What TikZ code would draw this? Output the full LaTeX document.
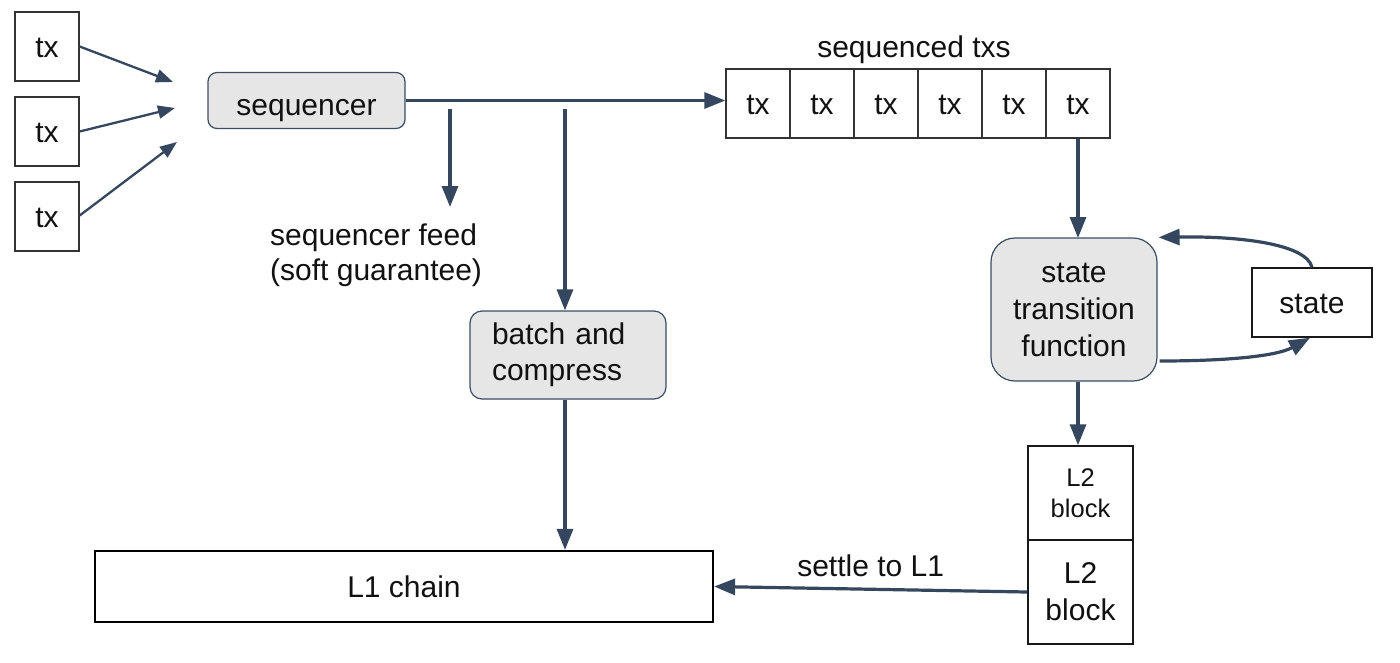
\documentclass[tikz,border=0pt]{standalone}
\usepackage{fontspec}
\setmainfont{Liberation Sans}
\usetikzlibrary{arrows.meta}
\definecolor{arr}{HTML}{34475F}
\definecolor{gfill}{HTML}{E6E6E6}
\definecolor{gline}{HTML}{3B4D63}
\definecolor{txt}{HTML}{111111}
\tikzset{
  base/.style={inner sep=0pt, text=txt, font=\fontsize{30}{37.5}\selectfont},
  one/.style={text height=24pt, text depth=3pt},
  txbox/.style={base, one, draw=black!80, line width=1.3pt, fill=white, minimum width=64pt, minimum height=69pt},
  gbox/.style={base, draw=gline, line width=1.2pt, fill=gfill},
  plainbox/.style={base, draw=black!90, line width=1.5pt, fill=white},
  conn/.style={draw=arr, line width=3.2pt, -{Triangle[length=21pt,width=16pt]}},
  thinconn/.style={draw=arr, line width=2.3pt, -{Triangle[length=17pt,width=13pt]}},
  label/.style={base}
}
\begin{document}
\begin{tikzpicture}[x=1pt,y=-1pt]
\useasboundingbox (0,0) rectangle (1400,662);
\fill[white] (0,0) rectangle (1400,662);
% left txs
\node[txbox] (t1) at (47,46.5) {tx};
\node[txbox] (t2) at (47,131.5) {tx};
\node[txbox] (t3) at (47,216.5) {tx};
\coordinate (c1) at (173,82);
\coordinate (c2) at (175,108);
\coordinate (c3) at (177,142);
\draw[thinconn] (t1.east) -- (c1);
\draw[thinconn] (t2.east) -- (c2);
\draw[thinconn] ([yshift=1pt]t3.east) -- (c3);
% sequencer
\node[gbox, text height=30pt, text depth=0pt, rounded corners=9pt, minimum width=197pt, minimum height=56pt] (seq) at (306.5,100.5) {sequencer};
% sequenced txs row
\foreach \i/\x in {1/758,2/822,3/886,4/950,5/1014,6/1078}{
  \node[txbox] (r\i) at (\x,103.5) {tx};
}
\node[label, one] (sqlabel) at (914,46.5) {sequenced txs};
\draw[conn] (seq.east) -- (seq.east -| r1.west);
% drops
\coordinate (d1s) at (450,109);
\coordinate (d1e) at (450,207);
\coordinate (d2s) at (565,109);
\draw[conn] (d1s) -- (d1e);
\node[label, anchor=west, align=left, font=\fontsize{30}{35}\selectfont] (feed) at (270,255) {sequencer feed\\(soft guarantee)};
% batch
\node[gbox, rounded corners=12pt, minimum height=88pt, text width=152pt, inner xsep=22pt, align=left, font=\fontsize{30}{36}\selectfont] (batch) at (568,355) {batch and\\compress};
\draw[conn] (d2s) -- (d2s |- batch.north);
% L1 chain
\node[base, one, draw=black, line width=2.2pt, fill=white, minimum width=618pt, minimum height=71pt] (l1) at (404,586.5) {L1 chain};
\draw[conn] (batch.south -| d2s) -- (d2s |- l1.north);
% state transition function
\draw[conn] (r6.south) -- (r6.south |- 0,238);
\node[gbox, rounded corners=24pt, minimum width=166pt, minimum height=143pt, align=center, font=\fontsize{30}{37}\selectfont] (stf) at (1074,309.5) {state\\transition\\function};
% state
\node[plainbox, one, minimum width=120pt, minimum height=69pt] (state) at (1312,302.5) {state};
\draw[conn] (state.north) .. controls (1306,243) and (1235,236) .. ([xshift=1pt]stf.north east);
\draw[conn] ([yshift=-51.5pt,xshift=2pt]stf.east) .. controls (1220,361) and (1275,357) .. ([xshift=-2pt]state.south);
% L2 blocks
\node[plainbox, minimum width=105pt, minimum height=94pt, align=center, font=\fontsize{25.5}{31.5}\selectfont] (b1) at (1080.5,493) {L2\\block};
\node[plainbox, minimum width=105pt, minimum height=104pt, align=center, font=\fontsize{30}{37}\selectfont] (b2) at (1080.5,592) {L2\\block};
\draw[conn] (stf.south -| 1078,0) -- (b1.north -| 1078,0);
\draw[conn] (b2.west) -- node[label, one, above=8pt] (settle) {settle to L1} (l1.east);
\end{tikzpicture}
\end{document}
